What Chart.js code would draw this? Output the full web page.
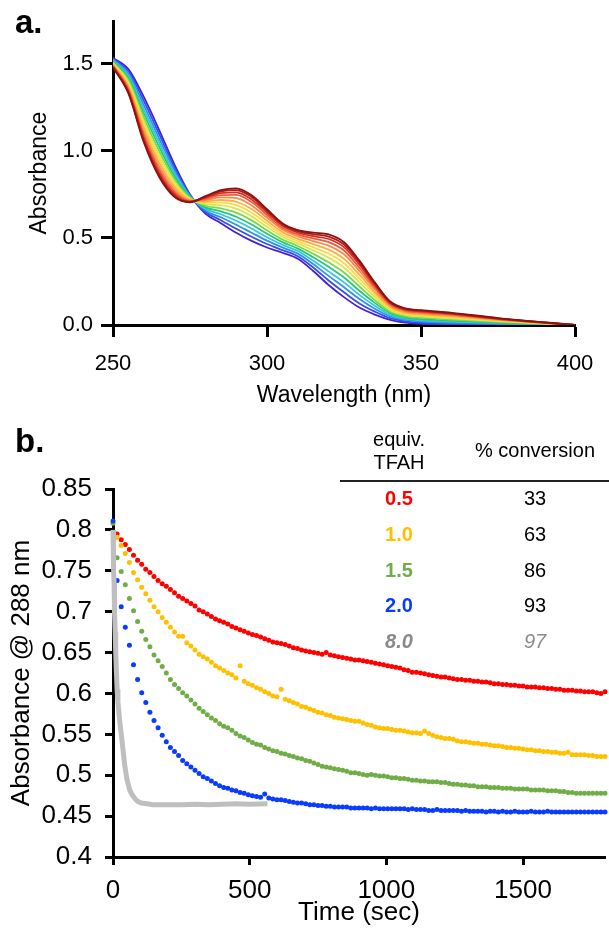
<!DOCTYPE html>
<html>
<head>
<meta charset="utf-8">
<script src="https://cdn.jsdelivr.net/npm/chart.js@4.4.1/dist/chart.umd.min.js"></script>
<style>
  body { margin: 0; background: #fff; }
  #page { position: relative; width: 609px; height: 928px; overflow: hidden; font-family: 'Liberation Sans', Arial, sans-serif; }
  canvas { position: absolute; left: 0; }
  .panel { position: absolute; left: 15px; font-weight: bold; font-size: 33px; line-height: 33px; }
  .t { position: absolute; font-size: 20px; line-height: 20px; white-space: nowrap; transform: translateX(-50%); color: #000; }
  .b { font-weight: bold; }
  .i { font-style: italic; }
  #rule { position: absolute; left: 340px; top: 480px; width: 269px; border-top: 2px solid #222; }
</style>
</head>
<body>
<div id="page">
  <canvas id="spectraChart" width="609" height="415" style="top:0"></canvas>
  <canvas id="kineticsChart" width="609" height="513" style="top:415px"></canvas>

  <div class="panel" style="top:5px">a.</div>
  <div class="panel" style="top:424px">b.</div>

  <div class="t" style="left:399px;top:429px">equiv.</div>
  <div class="t" style="left:399px;top:452px">TFAH</div>
  <div class="t" style="left:535px;top:440px">% conversion</div>
  <div id="rule"></div>
  <div id="tableRows"></div>
</div>

<script>
const fontFamily = "'Liberation Sans', Arial, sans-serif";

// ---- panel a: UV-vis spectra ----
const wavelengthNm = [250, 255, 260, 265, 270, 275, 280, 285, 290, 295, 300, 305, 310, 315, 320, 325, 330, 335, 340, 345, 350, 360, 375, 400];
const wavelengthTicks = [250, 300, 350, 400];
const spectraAbsTicks = [0, 0.5, 1.0, 1.5];

const scan01 = [1.48, 1.33, 1.05, 0.85, 0.735, 0.705, 0.74, 0.775, 0.785, 0.745, 0.665, 0.585, 0.545, 0.53, 0.52, 0.475, 0.37, 0.245, 0.135, 0.095, 0.085, 0.07, 0.04, 0.0];
const scan02 = [1.48, 1.336, 1.06, 0.861, 0.742, 0.707, 0.736, 0.767, 0.775, 0.735, 0.656, 0.578, 0.538, 0.521, 0.508, 0.462, 0.359, 0.238, 0.131, 0.092, 0.082, 0.067, 0.038, 0.0];
const scan03 = [1.485, 1.343, 1.073, 0.874, 0.752, 0.709, 0.731, 0.758, 0.762, 0.721, 0.645, 0.57, 0.53, 0.51, 0.494, 0.447, 0.346, 0.228, 0.126, 0.088, 0.078, 0.064, 0.036, 0.0];
const scan04 = [1.488, 1.351, 1.089, 0.891, 0.763, 0.712, 0.725, 0.746, 0.747, 0.706, 0.632, 0.559, 0.52, 0.497, 0.476, 0.428, 0.329, 0.217, 0.119, 0.083, 0.073, 0.06, 0.034, 0.0];
const scan05 = [1.492, 1.361, 1.107, 0.909, 0.776, 0.715, 0.718, 0.733, 0.729, 0.687, 0.617, 0.548, 0.509, 0.482, 0.456, 0.406, 0.311, 0.204, 0.112, 0.077, 0.068, 0.055, 0.031, 0.0];
const scan06 = [1.497, 1.372, 1.128, 0.931, 0.791, 0.719, 0.71, 0.718, 0.708, 0.666, 0.599, 0.534, 0.495, 0.464, 0.433, 0.38, 0.289, 0.189, 0.103, 0.071, 0.061, 0.049, 0.028, 0.0];
const scan07 = [1.501, 1.383, 1.149, 0.953, 0.805, 0.722, 0.702, 0.703, 0.688, 0.645, 0.581, 0.52, 0.482, 0.446, 0.41, 0.355, 0.267, 0.175, 0.095, 0.064, 0.055, 0.043, 0.025, 0.0];
const scan08 = [1.505, 1.394, 1.17, 0.974, 0.82, 0.726, 0.694, 0.688, 0.668, 0.624, 0.564, 0.507, 0.469, 0.429, 0.387, 0.33, 0.246, 0.16, 0.087, 0.058, 0.049, 0.038, 0.022, 0.0];
const scan09 = [1.51, 1.407, 1.193, 0.999, 0.837, 0.73, 0.685, 0.67, 0.645, 0.601, 0.544, 0.491, 0.454, 0.409, 0.36, 0.302, 0.221, 0.143, 0.077, 0.05, 0.042, 0.031, 0.018, 0.0];
const scan10 = [1.515, 1.42, 1.216, 1.023, 0.853, 0.734, 0.676, 0.653, 0.622, 0.577, 0.524, 0.476, 0.439, 0.389, 0.334, 0.273, 0.197, 0.127, 0.068, 0.043, 0.034, 0.025, 0.014, 0.0];
const scan11 = [1.52, 1.432, 1.24, 1.047, 0.87, 0.738, 0.667, 0.636, 0.599, 0.554, 0.504, 0.461, 0.425, 0.369, 0.308, 0.245, 0.173, 0.11, 0.058, 0.036, 0.027, 0.019, 0.011, 0.0];
const scan12 = [1.525, 1.445, 1.263, 1.071, 0.887, 0.742, 0.658, 0.619, 0.576, 0.53, 0.485, 0.446, 0.41, 0.35, 0.282, 0.217, 0.149, 0.093, 0.049, 0.029, 0.02, 0.013, 0.007, 0.0];
const scan13 = [1.53, 1.457, 1.287, 1.096, 0.903, 0.746, 0.649, 0.602, 0.553, 0.507, 0.465, 0.43, 0.395, 0.33, 0.256, 0.188, 0.124, 0.077, 0.039, 0.021, 0.013, 0.006, 0.004, 0.0];
const scan14 = [1.535, 1.47, 1.31, 1.12, 0.92, 0.75, 0.64, 0.585, 0.53, 0.483, 0.445, 0.415, 0.38, 0.31, 0.23, 0.16, 0.10, 0.06, 0.03, 0.014, 0.006, 0.0, 0.0, 0.0];

const scans = [scan01, scan02, scan03, scan04, scan05, scan06, scan07, scan08, scan09, scan10, scan11, scan12, scan13, scan14];
const scanColors = [
    '#8b1212', '#b01c1c', '#d83020', '#f05a3c', '#f88a4a', '#fbb040', '#fcd84a',
    '#d8e84a', '#78d848', '#28c878', '#30c8e0', '#2f90f0', '#3050e8', '#4a1ed8'
];

// ---- panel b: absorbance at 288 nm vs time ----
const timeTicks = [0, 500, 1000, 1500];
const timeSec = [
    0, 15, 30, 45, 60, 75, 90, 105, 120, 135,
    150, 165, 180, 195, 210, 225, 240, 255, 270, 285,
    300, 315, 330, 345, 360, 375, 390, 405, 420, 435,
    450, 465, 480, 495, 510, 525, 540, 555, 570, 585,
    600, 615, 630, 645, 660, 675, 690, 705, 720, 735,
    750, 765, 780, 795, 810, 825, 840, 855, 870, 885,
    900, 915, 930, 945, 960, 975, 990, 1005, 1020, 1035,
    1050, 1065, 1080, 1095, 1110, 1125, 1140, 1155, 1170, 1185,
    1200, 1215, 1230, 1245, 1260, 1275, 1290, 1305, 1320, 1335,
    1350, 1365, 1380, 1395, 1410, 1425, 1440, 1455, 1470, 1485,
    1500, 1515, 1530, 1545, 1560, 1575, 1590, 1605, 1620, 1635,
    1650, 1665, 1680, 1695, 1710, 1725, 1740, 1755, 1770, 1785,
    1800
];

const abs05 = [
    null, 0.795, 0.788, 0.782, 0.776, 0.769, 0.763, 0.758, 0.752, 0.748,
    0.743, 0.738, 0.734, 0.731, 0.727, 0.723, 0.719, 0.716, 0.713, 0.710,
    0.707, 0.702, 0.700, 0.697, 0.694, 0.691, 0.689, 0.687, 0.685, 0.682,
    0.680, 0.678, 0.676, 0.674, 0.672, 0.671, 0.669, 0.667, 0.665, 0.663,
    0.662, 0.661, 0.660, 0.658, 0.656, 0.655, 0.653, 0.652, 0.651, 0.650,
    0.649, 0.648, 0.650, 0.647, 0.646, 0.645, 0.644, 0.643, 0.642, 0.641,
    0.641, 0.640, 0.639, 0.638, 0.637, 0.636, 0.635, 0.634, 0.633, 0.632,
    0.631, 0.629, 0.628, 0.626, 0.626, 0.625, 0.624, 0.623, 0.622, 0.621,
    0.620, 0.620, 0.619, 0.618, 0.617, 0.617, 0.616, 0.616, 0.615, 0.615,
    0.614, 0.614, 0.613, 0.612, 0.612, 0.611, 0.611, 0.610, 0.610, 0.609,
    0.609, 0.608, 0.608, 0.608, 0.607, 0.607, 0.606, 0.606, 0.605, 0.605,
    0.604, 0.604, 0.604, 0.603, 0.603, 0.602, 0.602, 0.602, 0.601, 0.600,
    0.602
];
const abs10 = [
    null, 0.791, 0.781, 0.771, 0.760, 0.748, 0.739, 0.730, 0.722, 0.714,
    0.706, 0.700, 0.693, 0.687, 0.681, 0.675, 0.670, 0.670, 0.662, 0.658,
    0.653, 0.648, 0.645, 0.642, 0.638, 0.634, 0.631, 0.628, 0.625, 0.623,
    0.619, 0.634, 0.615, 0.612, 0.610, 0.607, 0.605, 0.602, 0.600, 0.597,
    0.596, 0.605, 0.593, 0.591, 0.589, 0.587, 0.584, 0.583, 0.581, 0.579,
    0.577, 0.576, 0.574, 0.573, 0.571, 0.570, 0.569, 0.568, 0.567, 0.566,
    0.566, 0.564, 0.562, 0.561, 0.559, 0.558, 0.557, 0.557, 0.556, 0.555,
    0.555, 0.554, 0.553, 0.552, 0.552, 0.551, 0.554, 0.551, 0.549, 0.547,
    0.546, 0.545, 0.545, 0.544, 0.542, 0.541, 0.541, 0.540, 0.539, 0.539,
    0.538, 0.538, 0.537, 0.536, 0.536, 0.535, 0.534, 0.534, 0.533, 0.533,
    0.532, 0.531, 0.531, 0.530, 0.530, 0.529, 0.529, 0.528, 0.528, 0.527,
    0.527, 0.528, 0.525, 0.525, 0.525, 0.525, 0.524, 0.524, 0.523, 0.523,
    0.523
];
const abs15 = [
    0.808, 0.766, 0.749, 0.733, 0.716, 0.701, 0.688, 0.676, 0.666, 0.657,
    0.647, 0.640, 0.633, 0.625, 0.617, 0.611, 0.606, 0.601, 0.597, 0.592,
    0.587, 0.582, 0.578, 0.574, 0.570, 0.567, 0.563, 0.560, 0.558, 0.555,
    0.551, 0.548, 0.546, 0.543, 0.540, 0.538, 0.537, 0.534, 0.532, 0.530,
    0.529, 0.527, 0.526, 0.524, 0.523, 0.521, 0.520, 0.518, 0.517, 0.515,
    0.513, 0.511, 0.510, 0.509, 0.508, 0.507, 0.506, 0.505, 0.503, 0.503,
    0.502, 0.501, 0.500, 0.501, 0.500, 0.499, 0.499, 0.498, 0.497, 0.497,
    0.496, 0.496, 0.495, 0.494, 0.494, 0.493, 0.493, 0.492, 0.492, 0.492,
    0.491, 0.491, 0.490, 0.489, 0.489, 0.488, 0.488, 0.487, 0.487, 0.486,
    0.486, 0.486, 0.485, 0.485, 0.485, 0.484, 0.484, 0.484, 0.483, 0.483,
    0.483, 0.483, 0.482, 0.482, 0.482, 0.482, 0.481, 0.481, 0.481, 0.480,
    0.480, 0.479, 0.479, 0.478, 0.478, 0.478, 0.478, 0.478, 0.478, 0.478,
    0.478
];
const abs20 = [
    0.811, 0.738, 0.706, 0.681, 0.659, 0.635, 0.617, 0.601, 0.589, 0.577,
    0.567, 0.558, 0.549, 0.541, 0.534, 0.529, 0.524, 0.518, 0.514, 0.510,
    0.506, 0.502, 0.498, 0.496, 0.493, 0.490, 0.487, 0.485, 0.484, 0.482,
    0.481, 0.479, 0.478, 0.476, 0.475, 0.474, 0.473, 0.477, 0.472, 0.471,
    0.470, 0.470, 0.469, 0.468, 0.467, 0.466, 0.466, 0.465, 0.464, 0.464,
    0.463, 0.463, 0.462, 0.462, 0.461, 0.461, 0.461, 0.461, 0.460, 0.460,
    0.460, 0.460, 0.460, 0.459, 0.460, 0.459, 0.459, 0.459, 0.459, 0.459,
    0.459, 0.459, 0.458, 0.459, 0.458, 0.458, 0.458, 0.457, 0.457, 0.458,
    0.457, 0.457, 0.457, 0.457, 0.457, 0.456, 0.457, 0.456, 0.456, 0.456,
    0.456, 0.455, 0.456, 0.456, 0.455, 0.456, 0.455, 0.455, 0.456, 0.455,
    0.455, 0.455, 0.456, 0.455, 0.455, 0.455, 0.456, 0.455, 0.455, 0.455,
    0.455, 0.455, 0.455, 0.455, 0.455, 0.455, 0.455, 0.455, 0.455, 0.455,
    0.455
];

// 8.0 equiv run was sampled much faster and stops near 565 s
const grayTime = [0, 1, 2, 3, 4, 5, 6, 8, 10, 12, 15, 18, 22, 26, 31, 37, 43, 51, 61, 70, 79, 90, 104, 125, 146, 200, 250, 300, 350, 400, 450, 500, 565];
const abs80 = [0.80, 0.785, 0.77, 0.752, 0.735, 0.718, 0.70, 0.675, 0.65, 0.63, 0.605, 0.59, 0.575, 0.562, 0.548, 0.53, 0.512, 0.495, 0.482, 0.476, 0.472, 0.468, 0.466, 0.465, 0.464, 0.464, 0.464, 0.4645, 0.464, 0.4645, 0.465, 0.4645, 0.465];

// table in the corner
const equivLabels = ['0.5', '1.0', '1.5', '2.0', '8.0'];
const conversionPct = ['33', '63', '86', '93', '97'];
const seriesColors = ['#ff0000', '#ffc000', '#70ad47', '#0a3cff', '#bfbfbf'];

// ---------------------------------------------

function pairs(xs, ys) {
    const out = [];
    for (let i = 0; i < xs.length; i++) {
        if (ys[i] !== null) out.push({ x: xs[i], y: ys[i] });
    }
    return out;
}

function axisLine(tickLen) {
    return {
        grid: { drawOnChartArea: false, drawTicks: true, tickLength: tickLen, tickWidth: 3, tickColor: '#000' },
        border: { display: true, color: '#000', width: 3 }
    };
}

const ctxSpectra = document.getElementById('spectraChart').getContext('2d');
const ctxKinetics = document.getElementById('kineticsChart').getContext('2d');

const spectraChart = new Chart(ctxSpectra, {
    type: 'line',
    data: {
        datasets: scans.map((s, i) => ({
            data: pairs(wavelengthNm, s),
            borderColor: scanColors[i],
            borderWidth: 1.8,
            pointRadius: 0,
            cubicInterpolationMode: 'monotone',
            fill: false
        }))
    },
    options: {
        responsive: false,
        animation: false,
        events: [],
        layout: { padding: { left: 0, top: 17, right: 34, bottom: 0 } },
        plugins: { legend: { display: false }, tooltip: { enabled: false } },
        scales: {
            x: {
                type: 'linear',
                min: 250,
                max: 400,
                ...axisLine(12),
                ticks: { autoSkip: false, padding: 14, color: '#000', font: { family: fontFamily, size: 22 } },
                afterBuildTicks: (s) => { s.ticks = wavelengthTicks.map(v => ({ value: v })); },
                title: { display: true, text: 'Wavelength (nm)', color: '#000', font: { family: fontFamily, size: 23 }, padding: { top: 0, bottom: 6 } },
                afterFit: (s) => { s.height = 90; }
            },
            y: {
                type: 'linear',
                min: 0,
                max: 1.745,
                ...axisLine(12),
                ticks: { autoSkip: false, padding: 8, color: '#000', font: { family: fontFamily, size: 22 }, callback: (v) => v.toFixed(1) },
                afterBuildTicks: (s) => { s.ticks = spectraAbsTicks.map(v => ({ value: v })); },
                title: { display: true, text: 'Absorbance', color: '#000', font: { family: fontFamily, size: 23 }, padding: { top: 26, bottom: 0 } },
                afterFit: (s) => { s.width = 113; }
            }
        }
    }
});

function dotSeries(ys, color) {
    return {
        data: pairs(timeSec, ys),
        backgroundColor: color,
        borderWidth: 0,
        pointRadius: 2.5,
        showLine: false,
        clip: 6
    };
}

const kineticsChart = new Chart(ctxKinetics, {
    type: 'scatter',
    data: {
        datasets: [
            {
                data: pairs(grayTime, abs80),
                borderColor: seriesColors[4],
                borderWidth: 5,
                pointRadius: 0,
                showLine: true,
                tension: 0,
                clip: 6
            },
            dotSeries(abs20, seriesColors[3]),
            dotSeries(abs15, seriesColors[2]),
            dotSeries(abs10, seriesColors[1]),
            dotSeries(abs05, seriesColors[0])
        ]
    },
    options: {
        responsive: false,
        animation: false,
        events: [],
        layout: { padding: { left: 0, top: 74, right: 4, bottom: 0 } },
        plugins: { legend: { display: false }, tooltip: { enabled: false } },
        scales: {
            x: {
                type: 'linear',
                min: 0,
                max: 1800,
                ...axisLine(8),
                ticks: { autoSkip: false, padding: 10, color: '#000', font: { family: fontFamily, size: 26 }, callback: (v) => String(v) },
                afterBuildTicks: (s) => { s.ticks = timeTicks.map(v => ({ value: v })); },
                title: { display: true, text: 'Time (sec)', color: '#000', font: { family: fontFamily, size: 26 }, padding: { top: 0, bottom: 0 } },
                afterFit: (s) => { s.height = 71; }
            },
            y: {
                type: 'linear',
                min: 0.4,
                max: 0.85,
                ...axisLine(8),
                ticks: { stepSize: 0.05, autoSkip: false, padding: 13, color: '#000', font: { family: fontFamily, size: 26 }, callback: (v) => String(+v.toFixed(2)) },
                title: { display: true, text: 'Absorbance @ 288 nm', color: '#000', font: { family: fontFamily, size: 26 }, padding: { top: 6, bottom: 0 } },
                afterFit: (s) => { s.width = 113; }
            }
        }
    }
});

// table rows (equiv. TFAH / % conversion)
const rowTops = [488, 524, 560, 595, 631];
const rowsBox = document.getElementById('tableRows');
equivLabels.forEach((eq, i) => {
    const a = document.createElement('div');
    a.className = 't b' + (i === 4 ? ' i' : '');
    a.style.left = '399px';
    a.style.top = rowTops[i] + 'px';
    a.style.color = i === 4 ? '#8a8a8a' : seriesColors[i];
    a.textContent = eq;
    rowsBox.appendChild(a);

    const c = document.createElement('div');
    c.className = 't' + (i === 4 ? ' i' : '');
    c.style.left = '535px';
    c.style.top = rowTops[i] + 'px';
    c.style.color = i === 4 ? '#8a8a8a' : '#000';
    c.textContent = conversionPct[i];
    rowsBox.appendChild(c);
});
</script>
</body>
</html>
